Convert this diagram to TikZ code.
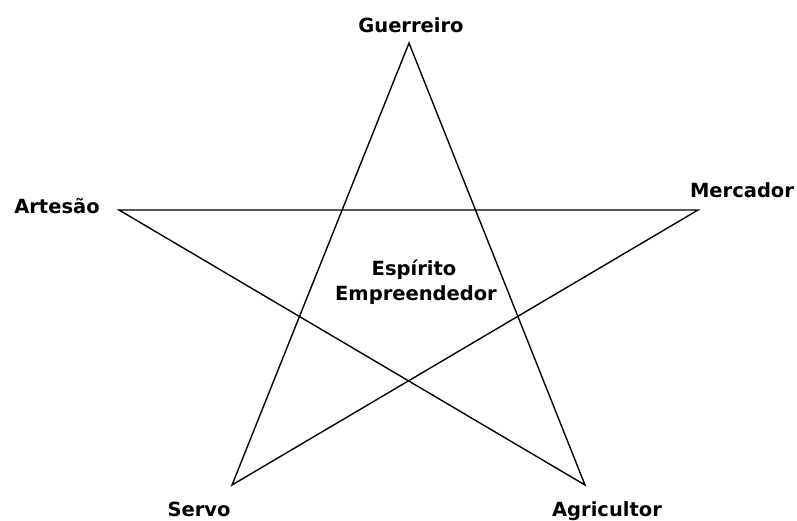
\documentclass[tikz,border=0pt]{standalone}
\usepackage{fontspec}
\setmainfont{DejaVu Sans}
\begin{document}
\begin{tikzpicture}[x=1pt,y=-1pt,
  lbl/.style={font=\bfseries\fontsize{19.5}{24}\selectfont,inner sep=0pt,anchor=base},
  edge/.style={line width=1.4pt,line join=miter}]
\useasboundingbox (0,0) rectangle (797,520);
\coordinate (T) at (409,43);
\coordinate (L) at (119,210);
\coordinate (R) at (698,210);
\coordinate (BL) at (232,485);
\coordinate (BR) at (585,485);
\draw[edge] (T) -- (BL) -- (R) -- (L) -- (BR) -- cycle;
\node[lbl] (guer) at (411,32) {Guerreiro};
\node[lbl] (art) at (57,213) {Artesão};
\node[lbl] (merc) at (742,197) {Mercador};
\node[lbl] (servo) at (199,516) {Servo};
\node[lbl] (agri) at (607,516) {Agricultor};
\node[lbl] (esp) at (414,275) {Espírito};
\node[lbl] (emp) at (416,300) {Empreendedor};
\end{tikzpicture}
\end{document}
